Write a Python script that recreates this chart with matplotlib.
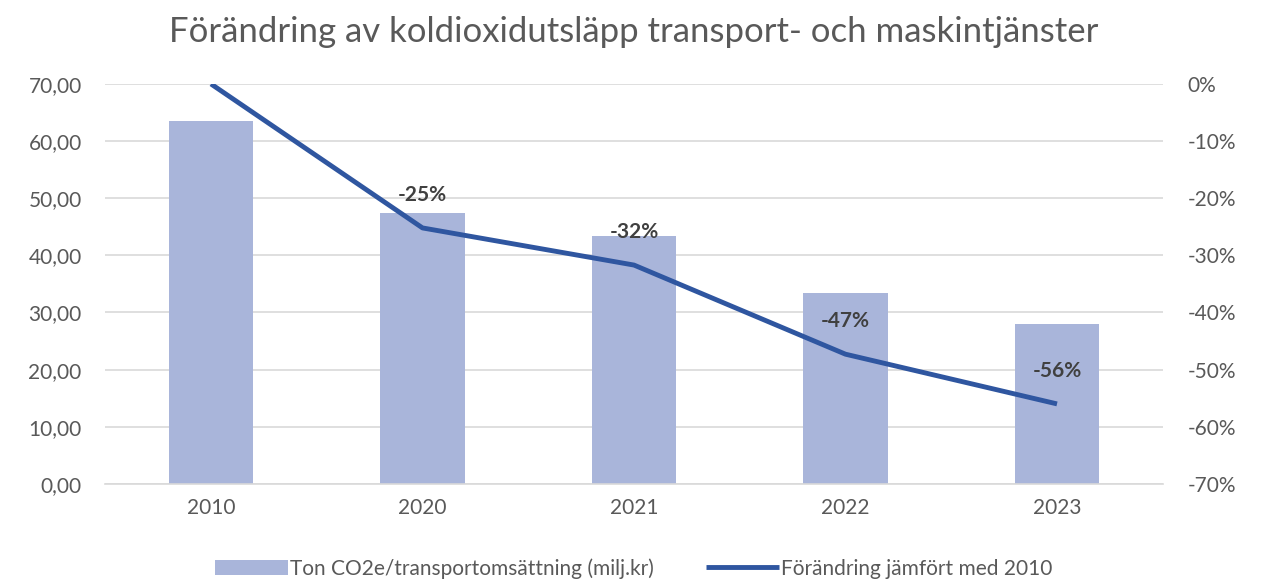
import matplotlib
matplotlib.use("Agg")
import matplotlib.pyplot as plt
from matplotlib.ticker import FuncFormatter
import numpy as np

years = ["2010", "2020", "2021", "2022", "2023"]
ton_co2e = [63.5, 47.4, 43.4, 33.4, 28.0]
change_pct = [0.0, -25.2, -31.7, -47.3, -56.0]
change_labels = ["", "-25%", "-32%", "-47%", "-56%"]

plt.rcParams['font.family'] = ['Lato', 'DejaVu Sans']

fig = plt.figure(figsize=(12.68, 5.83), dpi=100)
ax = fig.add_axes([0.083, 0.170, 0.834, 0.686])
ax2 = ax.twinx()

x = np.arange(len(years))
bar_color = "#A9B5DA"
line_color = "#2F56A0"
grid_color = "#D9D9D9"
tick_color = "#595959"

ax.bar(x, ton_co2e, width=0.4, color=bar_color, zorder=2,
       label="Ton CO2e/transportomsättning (milj.kr)")
ax.set_ylim(0, 70)
ax.set_yticks(np.arange(0, 71, 10))
ax.yaxis.set_major_formatter(FuncFormatter(lambda v, p: f"{v:.2f}".replace(".", ",")))
ax.set_xlim(-0.5, len(years) - 0.5)
ax.set_xticks(x)
ax.set_xticklabels(years)
ax.grid(axis="y", color=grid_color, linewidth=1.2, zorder=0)
ax.set_axisbelow(True)

ax2.plot(x, change_pct, color=line_color, linewidth=3.5, zorder=3,
         label="Förändring jämfört med 2010", solid_capstyle="butt")
ax2.set_ylim(-70, 0)
ax2.set_yticks(np.arange(-70, 1, 10))
ax2.yaxis.set_major_formatter(FuncFormatter(lambda v, p: f"{int(round(v))}%"))

for xi, yi, lab in zip(x, change_pct, change_labels):
    if lab:
        ax2.annotate(lab, (xi, yi), xytext=(0, 24), textcoords="offset points",
                     ha="center", va="center", fontsize=15, fontweight="bold",
                     color="#404040")

for a in (ax, ax2):
    for s in a.spines.values():
        s.set_visible(False)
    a.tick_params(length=0, labelsize=15, labelcolor=tick_color)
ax.spines["bottom"].set_visible(True)
ax.spines["bottom"].set_color(grid_color)
ax.spines["bottom"].set_linewidth(1.2)
ax.tick_params(axis="y", pad=17)
ax.tick_params(axis="x", pad=10)
ax2.tick_params(axis="y", pad=18)

fig.text(0.5, 0.945, "Förändring av koldioxidutsläpp transport- och maskintjänster",
         ha="center", va="center", fontsize=25, color="#595959")

h1, l1 = ax.get_legend_handles_labels()
h2, l2 = ax2.get_legend_handles_labels()
fig.legend(h1 + h2, l1 + l2, loc="center", bbox_to_anchor=(0.5, 0.025), ncol=2,
           frameon=False, fontsize=15, labelcolor=tick_color, handlelength=3.5,
           handletextpad=0.1, columnspacing=2.5)

fig.savefig("out.png", dpi=100, facecolor="white")
